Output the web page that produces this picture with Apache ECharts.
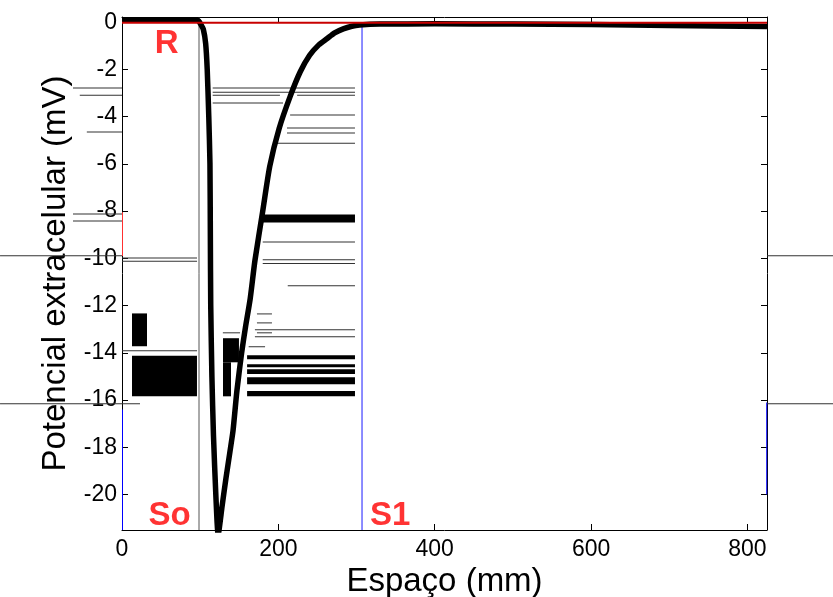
<!DOCTYPE html>
<html>
<head>
<meta charset="utf-8">
<script src="https://cdn.jsdelivr.net/npm/echarts@6/dist/echarts.min.js"></script>
<style>
html, body { margin: 0; padding: 0; background: #fff; }
#grafico { width: 833px; height: 597px; }
</style>
</head>
<body>
<div id="grafico"></div>
<script>
// curva do potencial extracelular (mV) ao longo do espaço (mm)
const espaco = [0, 50, 95, 98, 101, 104, 107, 109, 111, 112.5, 113, 113.5, 115, 117, 120, 123,
  128, 133, 138, 142, 147, 153, 158, 164, 170, 180, 189, 201, 215, 228, 240, 252, 262, 272, 283, 294, 304,
  330, 400, 500, 600, 700, 825];
const potencial = [0.1, 0.1, 0.1, 0.05, -0.1, -0.3, -0.9, -2.0, -4.0, -6.0, -9.0, -12.0, -15.0, -17.5, -20.0, -21.7,
  -20.5, -19.3, -18.2, -17.3, -15.6, -14.0, -12.9, -11.7, -10.1, -8.0, -6.1, -4.5, -3.15, -2.1, -1.4, -0.95, -0.7, -0.45, -0.28, -0.17, -0.12,
  -0.08, -0.07, -0.08, -0.1, -0.14, -0.18];

// linha de referência R e marcadores So / S1
const referencia = [[0, -0.02], [825, -0.02]];
const marcadorSo = [[98.5, 0.2], [98.5, -21.5]];
const marcadorS1 = [[307, -0.2], [307, -21.5]];

// eixos
const ticksX = [0, 200, 400, 600, 800];
const ticksY = [0, -2, -4, -6, -8, -10, -12, -14, -16, -18, -20];

// rótulos do gráfico: texto, espaço, potencial
const rotulos = [['R', 57, -0.9], ['So', 61, -20.9], ['S1', 343, -20.9]];

// artefactos da imagem: [x0, x1, y0, y1]
const blocosPretos = [
  [12.8, 32, -12.33, -13.72],
  [12.8, 95.9, -14.12, -15.84],
  [129.2, 149.6, -13.38, -14.4],
  [129.2, 139.4, -14.4, -15.84],
  [160, 298, -14.1, -14.27],
  [160, 298, -14.48, -14.61],
  [160, 298, -14.69, -14.9],
  [160, 298, -15.03, -15.33],
  [160, 298, -15.62, -15.84],
  [180, 298, -8.14, -8.48]
];
const linhasCinza = [
  [116, 298, -2.77, -2.77],
  [116, 298, -2.94, -2.94],
  [116, 202, -3.07, -3.07],
  [224, 298, -3.07, -3.07],
  [116, 206, -3.4, -3.4],
  [215, 298, -3.91, -3.91],
  [211, 298, -4.46, -4.46],
  [211, 298, -4.67, -4.67],
  [198, 298, -5.1, -5.1],
  [180, 298, -9.28, -9.28],
  [180, 298, -10.04, -10.04],
  [180, 298, -10.2, -10.2],
  [212, 298, -11.14, -11.14],
  [172.6, 191.8, -12.33, -12.33],
  [172.6, 191.8, -12.71, -12.71],
  [172.6, 191.8, -13.13, -13.13],
  [170, 298, -13.0, -13.0],
  [170, 298, -13.3, -13.3],
  [129, 151, -13.13, -13.13],
  [162, 183, -13.72, -13.72],
  [0, 96, -13.89, -13.89],
  [0, 96, -9.96, -9.96],
  [0, 96, -10.1, -10.1],
  [-62.7, 0, -2.77, -2.77],
  [-54, 0, -3.07, -3.07],
  [-45, 0, -4.63, -4.63],
  [-62.7, 0, -8.1, -8.1],
  [-62.7, 0, -8.4, -8.4],
  [-156, 0, -9.87, -9.87],
  [825, 910, -9.87, -9.87],
  [-156, 23, -16.13, -16.13],
  [825, 910, -16.13, -16.13]
];
const riscosAzuis = [
  [0, 0, -16.4, -21.5],
  [824, 824, -16.1, -20.0]
];
const riscosVermelhos = [
  [0, 0, -8.05, -9.9]
];

const fonte = "'Liberation Sans', Arial, sans-serif";

function desenhaRetangulo(params, api) {
  const p0 = api.coord([api.value(0), api.value(2)]);
  const p1 = api.coord([api.value(1), api.value(3)]);
  return {
    type: 'rect',
    shape: {
      x: Math.min(p0[0], p1[0]),
      y: Math.min(p0[1], p1[1]),
      width: Math.max(1, Math.abs(p1[0] - p0[0])),
      height: Math.max(1, Math.abs(p1[1] - p0[1]))
    },
    style: { fill: api.visual('color') }
  };
}

function serieArtefacto(nome, dados, cor) {
  return {
    name: nome,
    type: 'custom',
    renderItem: desenhaRetangulo,
    clip: false,
    silent: true,
    itemStyle: { color: cor },
    encode: { x: [0, 1], y: [2, 3] },
    data: dados,
    z: 1
  };
}

const eixoXBase = {
  type: 'value',
  min: 0,
  max: 825,
  interval: 200,
  splitLine: { show: false },
  axisLine: { onZero: false, lineStyle: { color: '#000', width: 1 } },
  axisTick: { inside: true, length: 6, lineStyle: { color: '#000' } }
};
const eixoYBase = {
  type: 'value',
  min: -21.5,
  max: 0.22,
  splitLine: { show: false },
  axisLine: { onZero: false, lineStyle: { color: '#000', width: 1 } },
  axisTick: { inside: true, length: 6, customValues: ticksY, lineStyle: { color: '#000' } }
};

const grafico = echarts.init(document.getElementById('grafico'));
grafico.setOption({
  animation: false,
  backgroundColor: '#fff',
  grid: { left: 122, right: 66, top: 17, bottom: 67, outerBoundsMode: 'none', containLabel: false },
  xAxis: [
    Object.assign({}, eixoXBase, {
      position: 'bottom',
      name: 'Espaço (mm)',
      nameLocation: 'middle',
      nameGap: 31,
      nameTextStyle: { fontFamily: fonte, fontSize: 33, color: '#000', verticalAlign: 'top' },
      axisLabel: {
        margin: 8, fontFamily: fonte, fontSize: 23, color: '#000',
        customValues: ticksX,
        formatter: v => String(Math.round(v))
      }
    }),
    Object.assign({}, eixoXBase, { position: 'top', axisLabel: { show: false } })
  ],
  yAxis: [
    Object.assign({}, eixoYBase, {
      position: 'left',
      name: 'Potencial extracelular (mV)',
      nameLocation: 'middle',
      nameRotate: 90,
      nameGap: 42,
      nameTextStyle: { fontFamily: fonte, fontSize: 33, color: '#000' },
      axisLabel: {
        margin: 5, fontFamily: fonte, fontSize: 23, color: '#000',
        customValues: ticksY,
        formatter: v => String(Math.round(v))
      }
    }),
    Object.assign({}, eixoYBase, { position: 'right', axisLabel: { show: false } })
  ],
  series: [
    serieArtefacto('blocos', blocosPretos, '#000'),
    serieArtefacto('linhas', linhasCinza, '#333'),
    serieArtefacto('azul', riscosAzuis, '#0000ff'),
    serieArtefacto('vermelho', riscosVermelhos, '#ff3030'),
    {
      name: 'So',
      type: 'line',
      data: marcadorSo,
      symbol: 'none',
      lineStyle: { color: '#555', width: 1 },
      z: 2
    },
    {
      name: 'S1',
      type: 'line',
      data: marcadorS1,
      symbol: 'none',
      lineStyle: { color: '#1a1aff', width: 1 },
      z: 2
    },
    {
      name: 'potencial',
      type: 'line',
      data: espaco.map((x, i) => [x, potencial[i]]),
      symbol: 'none',
      smooth: 0.2,
      lineStyle: { color: '#000', width: 5.5, join: 'round' },
      z: 4
    },
    {
      name: 'R',
      type: 'line',
      data: referencia,
      symbol: 'none',
      lineStyle: { color: '#c80000', width: 2 },
      z: 5
    },
    {
      name: 'rotulos',
      type: 'scatter',
      symbolSize: 0,
      data: rotulos.map(r => ({ name: r[0], value: [r[1], r[2]] })),
      label: {
        show: true,
        position: 'inside',
        formatter: '{b}',
        fontFamily: fonte,
        fontWeight: 'bold',
        fontSize: 33,
        color: '#ff0000'
      },
      z: 6
    }
  ]
});
</script>
</body>
</html>
